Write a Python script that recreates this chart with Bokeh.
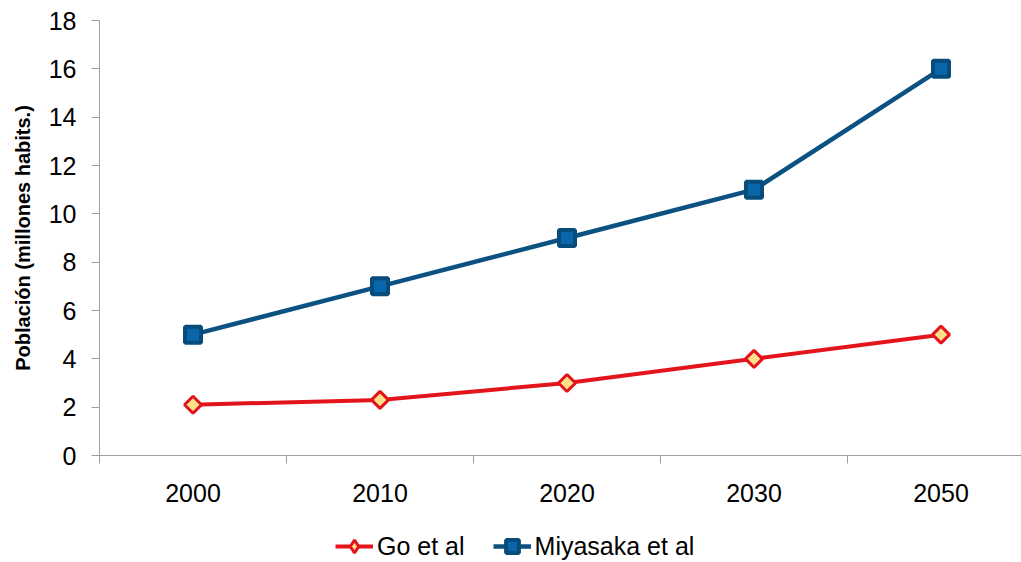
import numpy as np
from bokeh.plotting import figure
from bokeh.layouts import column
from bokeh.models import Range1d, FixedTicker, Legend, LegendItem
from bokeh.embed import file_html
from bokeh.resources import INLINE

years = ["2000", "2010", "2020", "2030", "2050"]
go_et_al = [2.1, 2.3, 3.0, 4.0, 5.0]
miyasaka_et_al = [5.0, 7.0, 9.0, 11.0, 16.0]
y_ticks = [0, 2, 4, 6, 8, 10, 12, 14, 16, 18]

FONT = "Liberation Sans"
RED = "#E3141C"
RED_FILL = "#FFE08A"
BLUE = "#0B5283"
BLUE_FILL = "#0A66AA"
BLUE_EDGE = "#084C7C"

xs = [i + 0.5 for i in range(len(years))]
bounds = list(range(len(years) + 1))

p = figure(width=1021, height=520,
           x_range=Range1d(0, 922 / 187), y_range=Range1d(0, 18),
           output_backend="svg", toolbar_location=None,
           min_border_left=99, min_border_right=0,
           min_border_top=20, min_border_bottom=65)
p.outline_line_color = None
p.background_fill_color = "white"
p.border_fill_color = "white"

# grids: only the top line at 18
p.xgrid.visible = False
p.ygrid.ticker = FixedTicker(ticks=[y_ticks[-1]])
p.ygrid.grid_line_color = "#6E6E6E"
p.ygrid.grid_line_width = 1

# x axis
xa = p.xaxis[0]
xa.ticker = FixedTicker(ticks=xs, minor_ticks=bounds)
xa.major_label_overrides = {x: lab for x, lab in zip(xs, years)}
xa.major_tick_out = 0
xa.major_tick_in = 0
xa.minor_tick_out = 8
xa.minor_tick_in = 0
xa.minor_tick_line_color = "#A0A0A0"
xa.axis_line_color = "#A0A0A0"
xa.major_label_text_font = FONT
xa.major_label_text_font_size = "25px"
xa.major_label_text_color = "black"
xa.major_label_standoff = 20

# y axis
ya = p.yaxis[0]
ya.ticker = FixedTicker(ticks=y_ticks)
ya.major_tick_out = 8
ya.major_tick_in = 0
ya.minor_tick_out = 0
ya.minor_tick_in = 0
ya.major_tick_line_color = "#A0A0A0"
ya.axis_line_color = "#A0A0A0"
ya.major_label_text_font = FONT
ya.major_label_text_font_size = "25px"
ya.major_label_text_color = "black"
ya.major_label_standoff = 15
ya.axis_label = "Población (millones habits.)"
ya.axis_label_text_font = FONT
ya.axis_label_text_font_size = "20px"
ya.axis_label_text_font_style = "bold"
ya.axis_label_text_color = "black"
ya.axis_label_standoff = 12

# series
p.line(xs, go_et_al, line_color=RED, line_width=4)
p.scatter(xs, go_et_al, marker="square", angle=np.pi / 4, size=12,
          fill_color=RED_FILL, line_color=RED, line_width=3)

p.line(xs, miyasaka_et_al, line_color=BLUE, line_width=4.5)
p.scatter(xs, miyasaka_et_al, marker="square", size=16,
          fill_color=BLUE_FILL, line_color=BLUE_EDGE, line_width=4)

# legend strip below the chart; its renderers hold the same series but lie
# outside this strip's visible range, so only the legend shows
lg = figure(width=1021, height=42, x_range=Range1d(0, 1), y_range=Range1d(0, 1),
            output_backend="svg", toolbar_location=None,
            min_border_left=0, min_border_right=0,
            min_border_top=0, min_border_bottom=0)
lg.axis.visible = False
lg.grid.visible = False
lg.outline_line_color = None
lg.border_fill_color = "white"

r_line = lg.line(xs, go_et_al, line_color=RED, line_width=4)
r_mark = lg.scatter(xs, go_et_al, marker="diamond", fill_color=RED_FILL,
                    line_color=RED, line_width=3)
b_line = lg.line(xs, miyasaka_et_al, line_color=BLUE, line_width=4.5)
b_mark = lg.scatter(xs, miyasaka_et_al, marker="square", fill_color=BLUE_FILL,
                    line_color=BLUE_EDGE, line_width=4)

legend = Legend(items=[
    LegendItem(label="Go et al", renderers=[r_line, r_mark]),
    LegendItem(label="Miyasaka et al", renderers=[b_line, b_mark]),
], orientation="horizontal", location=(236, 0))
legend.glyph_width = 38
legend.glyph_height = 32
legend.label_height = 32
legend.label_standoff = 4
legend.spacing = 28
legend.padding = 0
legend.margin = 0
legend.label_text_font = FONT
legend.label_text_font_size = "25px"
legend.label_text_color = "black"
legend.background_fill_alpha = 0
legend.border_line_alpha = 0
lg.add_layout(legend, "center")

layout = column(p, lg, spacing=0)
open("out.html", "w").write(file_html(layout, INLINE))
